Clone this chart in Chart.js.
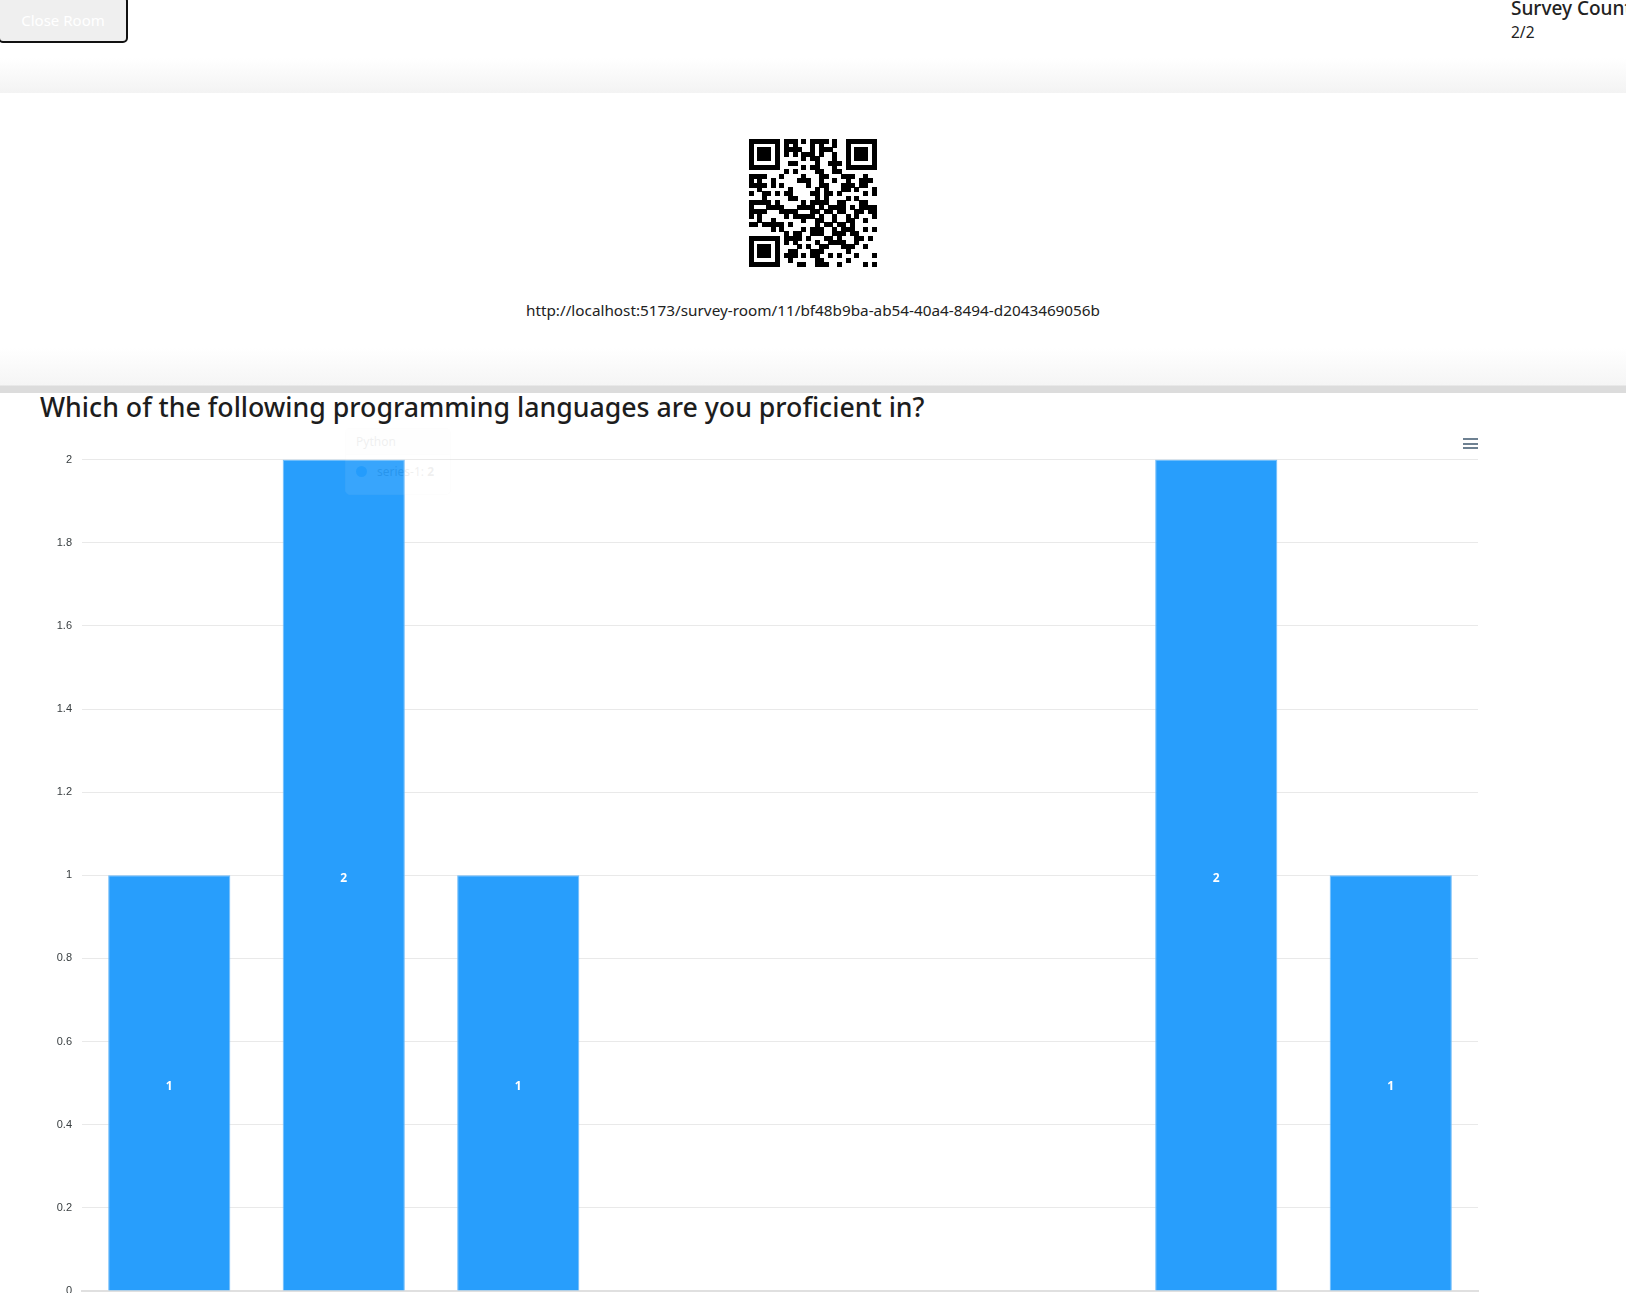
<!DOCTYPE html>
<html>
<head>
<meta charset="utf-8">
<script src="https://cdn.jsdelivr.net/npm/chart.js@4.4.1/dist/chart.umd.min.js"></script>
<style>
  html, body { margin: 0; padding: 0; width: 1626px; height: 1293px; overflow: hidden; background: #fff; font-family: "Noto Sans", sans-serif; }
  .header { position: absolute; left: 0; top: 0; width: 1626px; height: 93px; background: linear-gradient(to bottom, #fff 0px, #fff 58px, #f3f3f3 93px); }
  .close-btn { position: absolute; left: -2px; top: -4px; width: 126px; height: 43px; background: #efefef; border: 2px solid #111; border-radius: 5px; color: #fff; font-size: 15px; line-height: 45px; text-align: center; }
  .count { position: absolute; left: 1511px; top: -5px; color: #222; white-space: nowrap; }
  .count .t { font-size: 19px; font-weight: 500; }
  .count .v { font-size: 15.5px; margin-top: 0px; }
  .share { position: absolute; left: 0; top: 93px; width: 1626px; height: 300px; background: linear-gradient(to bottom, #fff 0px, #fff 255px, #f5f5f5 292px, #dcdcdc 293px, #dcdcdc 300px); }
  #qr { position: absolute; left: 749px; top: 139px; }
  .url { position: absolute; left: 0; width: 1626px; top: 300px; text-align: center; font-size: 15.3px; color: #222; }
  .title { position: absolute; left: 40px; top: 388px; font-size: 26.7px; font-weight: 500; color: #1d1d1d; white-space: nowrap; }
  .wrap { position: absolute; left: 0; top: 443px; width: 1500px; height: 888px; }
  .menu { position: absolute; left: 1463px; top: 438px; width: 15px; }
  .menu div { height: 2px; background: #6e8192; margin-bottom: 2.5px; }
  .ghost { position: absolute; left: 345px; top: 428px; width: 104px; height: 65px; border: 1px solid #e3e3e3; border-radius: 5px; opacity: 0.08; background: #fff; font-size: 12px; color: #333; }
  .ghost .h { background: #eceff1; padding: 4px 10px; border-bottom: 1px solid #ddd; }
  .ghost .r { padding: 8px 10px; }
  .ghost .dot { display: inline-block; width: 11px; height: 11px; border-radius: 50%; background: #008ffb; margin-right: 10px; vertical-align: -1px; }
</style>
</head>
<body>
<div class="header">
  <div class="close-btn">Close Room</div>
  <div class="count"><div class="t">Survey Count</div><div class="v">2/2</div></div>
</div>
<div class="share"></div>
<canvas id="qr" width="128" height="128"></canvas>
<div class="url">http://localhost:5173/survey-room/11/bf48b9ba-ab54-40a4-8494-d2043469056b</div>
<div class="title">Which of the following programming languages are you proficient in?</div>
<div class="wrap"><canvas id="chart"></canvas></div>
<div class="menu"><div></div><div></div><div></div></div>
<div class="ghost"><div class="h">Python</div><div class="r"><span class="dot"></span>series-1: <b>2</b></div></div>
<script>
const languages = ['JavaScript', 'Python', 'Java', 'C#', 'C++', 'Go', 'TypeScript', 'SQL'];
const responses = [1, 2, 1, 0, 0, 0, 2, 1];
const yTicks = [0, 0.2, 0.4, 0.6, 0.8, 1, 1.2, 1.4, 1.6, 1.8, 2];

// QR-like placeholder drawn on a 29x29 module grid
(function drawQr() {
  const c = document.getElementById('qr').getContext('2d');
  const n = 29, s = 128 / n;
  c.fillStyle = '#fff';
  c.fillRect(0, 0, 128, 128);
  c.fillStyle = '#000';
  const finder = (fx, fy, x, y) => {
    const dx = x - fx, dy = y - fy;
    if (dx < 0 || dy < 0 || dx > 6 || dy > 6) return null;
    if (dx === 0 || dy === 0 || dx === 6 || dy === 6) return true;
    if (dx >= 2 && dx <= 4 && dy >= 2 && dy <= 4) return true;
    return false;
  };
  for (let y = 0; y < n; y++) {
    for (let x = 0; x < n; x++) {
      let on = finder(0, 0, x, y);
      if (on === null) on = finder(22, 0, x, y);
      if (on === null) on = finder(0, 22, x, y);
      if (on === null) {
        if ((x <= 7 && y <= 7) || (x >= 21 && y <= 7) || (x <= 7 && y >= 21)) on = false;
        else on = ((x * x * 31 + y * y * 17 + x * y * 7 + (x ^ y) * 5) % 7) < 3;
      }
      if (on) c.fillRect(Math.floor(x * s), Math.floor(y * s), Math.ceil(s), Math.ceil(s));
    }
  }
})();

const barLabels = {
  id: 'barLabels',
  afterDatasetsDraw(chart) {
    const ctx = chart.ctx;
    const meta = chart.getDatasetMeta(0);
    ctx.save();
    ctx.fillStyle = '#fff';
    ctx.font = 'bold 12px "Noto Sans", Arial, sans-serif';
    ctx.textAlign = 'center';
    ctx.textBaseline = 'middle';
    meta.data.forEach((bar, i) => {
      const v = responses[i];
      if (!v) return;
      ctx.fillText(String(v), bar.x, (bar.y + bar.base) / 2 + 4);
    });
    ctx.restore();
  }
};

new Chart(document.getElementById('chart'), {
  type: 'bar',
  data: {
    labels: languages,
    datasets: [{
      label: 'series-1',
      data: responses,
      backgroundColor: '#289efc',
      borderColor: '#6fbcf9',
      borderWidth: 1,
      barPercentage: 0.7,
      categoryPercentage: 1
    }]
  },
  options: {
    responsive: true,
    maintainAspectRatio: false,
    animation: false,
    layout: { padding: { top: 10, right: 22, left: 0, bottom: 0 } },
    plugins: { legend: { display: false }, tooltip: { enabled: false } },
    scales: {
      x: {
        grid: { display: false, drawTicks: false },
        border: { color: '#e0e0e0', width: 2 },
        ticks: { color: '#373d3f', font: { size: 12 } },
        afterFit: (s) => { s.height = 40; }
      },
      y: {
        min: 0,
        max: 2,
        afterBuildTicks: (s) => { s.ticks = yTicks.map(v => ({ value: v })); },
        grid: { color: '#e9e9e9', drawTicks: false },
        border: { display: false },
        ticks: { color: '#373d3f', padding: 10, font: { size: 11, family: 'Arial, "Liberation Sans", sans-serif' }, callback: (v) => String(Math.round(v * 10) / 10) },
        afterFit: (s) => { s.width = 82; }
      }
    }
  },
  plugins: [barLabels]
});
</script>
</body>
</html>
